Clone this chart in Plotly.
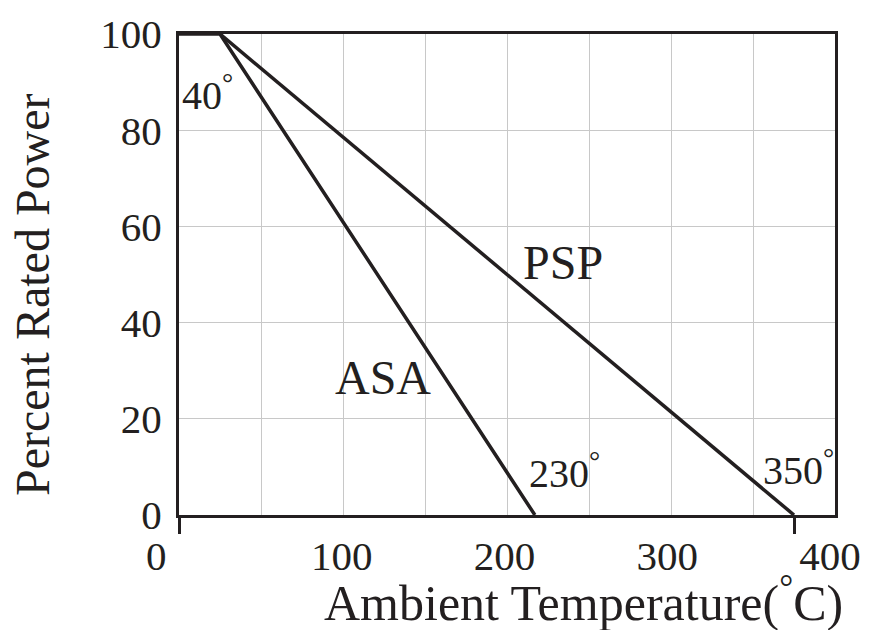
import plotly.graph_objects as go

# Data
asa_x = [0, 25, 217]
asa_y = [100, 100, 0]
psp_x = [25, 375]
psp_y = [100, 0]

x_tick_vals = [100, 200, 300, 400]
x_tick_text = ["100", "200", "300", "400"]
y_tick_vals = [0, 20, 40, 60, 80, 100]
y_tick_text = ["0", "20", "40", "60", "80", "100"]
x_mark_ticks = [0, 375]
x_grid_vals = [50, 100, 150, 200, 250, 300, 350]

FONT = "Liberation Serif"
BLACK = "#231f20"
GRID = "#c8c8c8"
TICK_SIZE = 41

fig = go.Figure()
fig.add_trace(go.Scatter(x=asa_x, y=asa_y, mode="lines",
                         line=dict(color=BLACK, width=3.5), showlegend=False, cliponaxis=False))
fig.add_trace(go.Scatter(x=psp_x, y=psp_y, mode="lines",
                         line=dict(color=BLACK, width=3.5), showlegend=False, cliponaxis=False))
fig.add_trace(go.Scatter(x=[0], y=[0], xaxis="x2", mode="markers",
                         marker=dict(opacity=0), showlegend=False, hoverinfo="skip"))

OFF = 8  # page body margin in the browser
W, H = 871 - OFF, 630 - OFF
L, T = 179 - OFF, 34 - OFF
R = W - (835 - OFF)
B = H - (515 - OFF)
plot_w = W - L - R
plot_h = H - T - B

fig.update_layout(
    width=W, height=H,
    margin=dict(l=L, r=R, t=T, b=B, autoexpand=False),
    paper_bgcolor="white", plot_bgcolor="white",
    font=dict(family=FONT, color=BLACK, size=TICK_SIZE),
    xaxis=dict(range=[0, 400], showgrid=False, automargin=False,
               showline=True, linecolor=BLACK, linewidth=3, mirror=True,
               zeroline=False,
               tickmode="array", tickvals=x_mark_ticks, ticktext=["", ""],
               ticks="outside", ticklen=16, tickwidth=3, tickcolor=BLACK,
               minor=dict(tickmode="array", tickvals=x_grid_vals,
                          showgrid=True, gridcolor=GRID, gridwidth=1.2, ticks="")),
    xaxis2=dict(range=[0, 403], overlaying="x", side="bottom", showgrid=False,
                showline=False, zeroline=False, ticks="", automargin=False,
                tickmode="array", tickvals=x_tick_vals, ticktext=x_tick_text,
                tickfont=dict(family=FONT, size=TICK_SIZE, color=BLACK), ticklabelstandoff=13),
    yaxis=dict(range=[0, 100], showgrid=True, gridcolor=GRID, gridwidth=1.2,
               showline=True, linecolor=BLACK, linewidth=3, mirror=True,
               zeroline=False, ticks="", automargin=False,
               tickmode="array", tickvals=y_tick_vals, ticktext=y_tick_text,
               tickfont=dict(family=FONT, size=TICK_SIZE, color=BLACK), ticklabelstandoff=6),
)

def px_x(p):
    return (p - OFF - L) / plot_w

def px_y(p):
    return (H - B - (p - OFF)) / plot_h

ann = [
    dict(text="0", x=px_x(156), y=px_y(556), font=dict(size=TICK_SIZE)),
    dict(text="Ambient Temperature(<sup>°</sup>C)",
         x=px_x(583), y=px_y(599), font=dict(size=50)),
    dict(text="Percent Rated Power", textangle=-90, x=px_x(32), y=px_y(295),
         font=dict(size=48)),
    dict(text="40<sup>°</sup>", x=px_x(207), y=px_y(93), font=dict(size=40)),
    dict(text="230<sup>°</sup>", x=px_x(564), y=px_y(470), font=dict(size=40)),
    dict(text="350<sup>°</sup>", x=px_x(798), y=px_y(468), font=dict(size=40)),
    dict(text="ASA", x=px_x(383), y=px_y(377), font=dict(size=48)),
    dict(text="PSP", x=px_x(563), y=px_y(262), font=dict(size=48)),
]
for a in ann:
    a.update(xref="paper", yref="paper", xanchor="center", yanchor="middle",
             showarrow=False)
fig.update_layout(annotations=ann)

fig.write_html("out.html")
